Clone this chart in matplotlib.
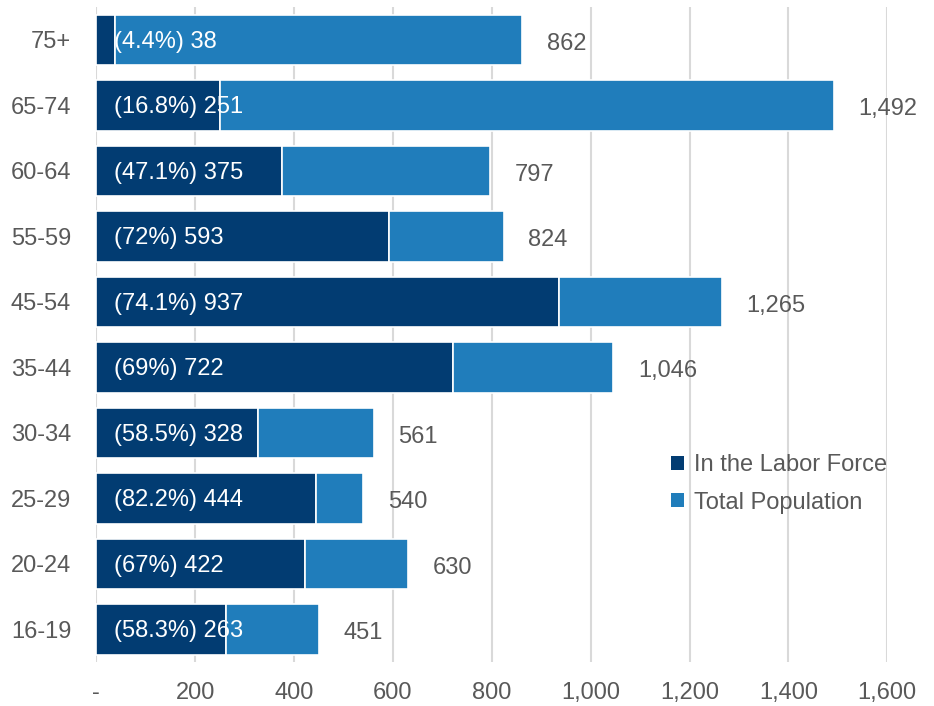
import matplotlib
matplotlib.use("Agg")
import matplotlib.pyplot as plt
from matplotlib.patches import Patch

plt.rcParams['font.family'] = ['Liberation Sans', 'DejaVu Sans']

categories = ["75+", "65-74", "60-64", "55-59", "45-54", "35-44", "30-34", "25-29", "20-24", "16-19"]
labor_force = [38, 251, 375, 593, 937, 722, 328, 444, 422, 263]
total_pop = [862, 1492, 797, 824, 1265, 1046, 561, 540, 630, 451]
xticks = [0, 200, 400, 600, 800, 1000, 1200, 1400, 1600]
xticklabels = ["-", "200", "400", "600", "800", "1,000", "1,200", "1,400", "1,600"]

dark = "#023C72"
light = "#207DBB"
gray = "#595959"

fig = plt.figure(figsize=(9.34, 7.06), dpi=100)
ax = fig.add_axes([0.103, 0.062, 0.847, 0.928])

y = list(range(len(categories)))
h = 0.77
rest = [t - l for t, l in zip(total_pop, labor_force)]
ax.barh(y, labor_force, height=h, color=dark, edgecolor="white", linewidth=1.2, zorder=3)
ax.barh(y, rest, left=labor_force, height=h, color=light, edgecolor="white", linewidth=1.2, zorder=3)

for i, (l, t) in enumerate(zip(labor_force, total_pop)):
    pct = round(l / t * 100, 1)
    ax.text(35, i + 0.03, f"({pct:g}%) {l}", color="white", va="center", ha="left",
            fontsize=17, zorder=5)
    ax.text(t + 50, i + 0.06, f"{t:,}", color=gray, va="center", ha="left",
            fontsize=17, zorder=5)

ax.set_ylim(len(categories) - 0.5, -0.5)
ax.set_xlim(0, 1600)
ax.set_yticks(y)
ax.set_yticklabels(categories)
ax.set_xticks(xticks)
ax.set_xticklabels(xticklabels)
ax.tick_params(axis="both", length=0, labelsize=17, colors=gray)
ax.tick_params(axis="x", pad=14)
ax.tick_params(axis="y", pad=18)
for s in ax.spines.values():
    s.set_visible(False)
ax.grid(axis="x", color="#D9D9D9", linewidth=1.5, zorder=0)
ax.set_axisbelow(True)

handles = [Patch(facecolor=dark, label="In the Labor Force"),
           Patch(facecolor=light, label="Total Population")]
leg = ax.legend(handles=handles, loc="upper left", bbox_to_anchor=(0.70, 0.35),
                frameon=False, fontsize=17, handlelength=0.55, handleheight=0.55,
                handletextpad=0.4, labelspacing=0.65)
for t in leg.get_texts():
    t.set_color(gray)

fig.savefig("out.png", dpi=100)
